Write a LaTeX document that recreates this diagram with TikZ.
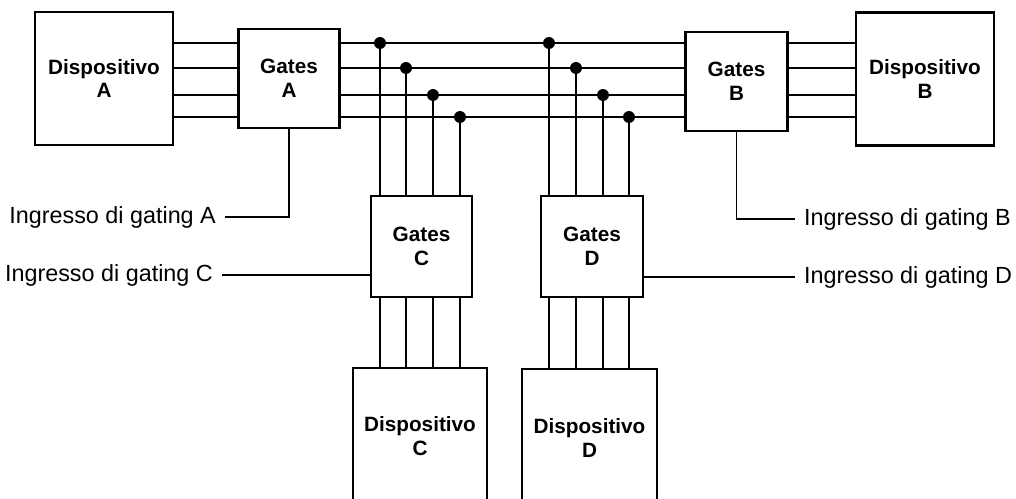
\documentclass[tikz,border=0pt]{standalone}
\usepackage{fontspec}
\setmainfont{Liberation Sans}
\usetikzlibrary{positioning,calc}

\begin{document}
\begin{tikzpicture}[
 x=0.02cm,y=-0.02cm,
 every node/.style={font=\fontsize{11.8}{13.5}\selectfont\bfseries},
 dev/.style={draw,line width=1.6pt,minimum width=2.76cm,minimum height=2.66cm,align=center,inner sep=0pt},
 gate/.style={draw,line width=1.6pt,minimum width=2.03cm,minimum height=1.98cm,align=center,inner sep=0pt},
 tap/.style={circle,fill,inner sep=0pt,minimum size=6.8pt},
 bus/.style={line width=1.1pt},
 ctl/.style={line width=0.8pt},
 lab/.style={font=\fontsize{13.3}{15}\selectfont,inner sep=5pt}
]
\path[use as bounding box,clip] (0,0) rectangle (1016,499);

% devices and gates
\node[dev] (dA) at (104,78.5) {Dispositivo\\A};
\node[gate] (gA) at (289,78.5) {Gates\\A};
\node[gate] (gB) at (736.5,81.5) {Gates\\B};
\node[dev] (dB) at (925,79) {Dispositivo\\B};
\node[gate,minimum width=2.02cm,minimum height=2.02cm] (gC) at (421.5,246.5) {Gates\\C};
\node[gate,minimum width=2.04cm,minimum height=2.02cm] (gD) at (592,246.5) {Gates\\D};
\node[dev,minimum width=2.68cm,minimum height=2.72cm] (dC) at (420,436) {Dispositivo\\C};
\node[dev,minimum width=2.7cm,minimum height=2.76cm] (dD) at (589.5,438) {Dispositivo\\D};

% taps on the bus
\node[tap] (t1) at (380,43) {};
\node[tap] (t2) at (406,68) {};
\node[tap] (t3) at (433,95) {};
\node[tap] (t4) at (460,117) {};
\node[tap] (u1) at (549,43) {};
\node[tap] (u2) at (576,68) {};
\node[tap] (u3) at (603,95) {};
\node[tap] (u4) at (629,117) {};

% bus lines
\draw[bus] (dA.east |- t1) -- (gA.west |- t1); \draw[bus] (dA.east |- t2) -- (gA.west |- t2);
\draw[bus] (dA.east |- t3) -- (gA.west |- t3); \draw[bus] (dA.east |- t4) -- (gA.west |- t4);
\draw[bus] (gA.east |- t1) -- (gB.west |- t1); \draw[bus] (gA.east |- t2) -- (gB.west |- t2);
\draw[bus] (gA.east |- t3) -- (gB.west |- t3); \draw[bus] (gA.east |- t4) -- (gB.west |- t4);
\draw[bus] (gB.east |- t1) -- (dB.west |- t1); \draw[bus] (gB.east |- t2) -- (dB.west |- t2);
\draw[bus] (gB.east |- t3) -- (dB.west |- t3); \draw[bus] (gB.east |- t4) -- (dB.west |- t4);

% branches to C and D
\draw[bus] (t1) -- (t1 |- gC.north); \draw[bus] (t1 |- gC.south) -- (t1 |- dC.north);
\draw[bus] (t2) -- (t2 |- gC.north); \draw[bus] (t2 |- gC.south) -- (t2 |- dC.north);
\draw[bus] (t3) -- (t3 |- gC.north); \draw[bus] (t3 |- gC.south) -- (t3 |- dC.north);
\draw[bus] (t4) -- (t4 |- gC.north); \draw[bus] (t4 |- gC.south) -- (t4 |- dC.north);
\draw[bus] (u1) -- (u1 |- gD.north); \draw[bus] (u1 |- gD.south) -- (u1 |- dD.north);
\draw[bus] (u2) -- (u2 |- gD.north); \draw[bus] (u2 |- gD.south) -- (u2 |- dD.north);
\draw[bus] (u3) -- (u3 |- gD.north); \draw[bus] (u3 |- gD.south) -- (u3 |- dD.north);
\draw[bus] (u4) -- (u4 |- gD.north); \draw[bus] (u4 |- gD.south) -- (u4 |- dD.north);

% gating inputs
\node[lab,anchor=east] (lA) at (225,217) {Ingresso di gating A};
\draw[ctl] (lA.east) -| (gA.south);
\node[lab,anchor=east] (lC) at (222,275) {Ingresso di gating C};
\draw[ctl] (lC.east) -- (lC.east -| gC.west);
\node[lab,anchor=west] (lB) at (795,219) {Ingresso di gating B};
\draw[ctl] (gB.south) |- (lB.west);
\node[lab,anchor=west] (lD) at (795,277) {Ingresso di gating D};
\draw[ctl] (lD.west -| gD.east) -- (lD.west);
\end{tikzpicture}
\end{document}
